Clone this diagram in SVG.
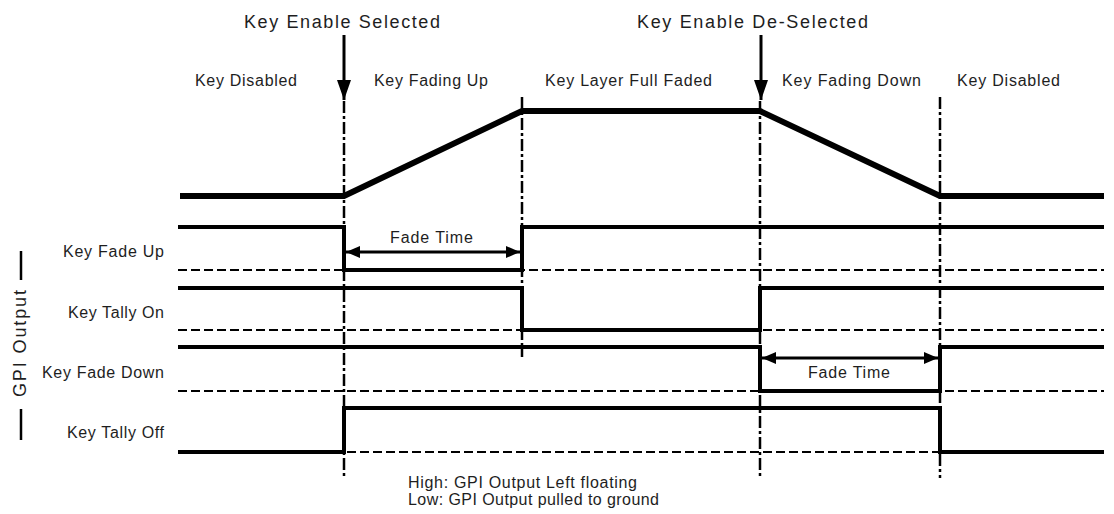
<svg xmlns="http://www.w3.org/2000/svg" width="1114" height="514" viewBox="0 0 1114 514">
  <style>
    text { font-family: "Liberation Sans", Arial, sans-serif; fill: #1e1e1e; }
    .title { font-size: 18px; }
    .lbl { font-size: 16px; }
    .sig { fill: none; stroke: #000; stroke-width: 4; stroke-linejoin: miter; }
    .key { fill: none; stroke: #000; stroke-width: 6; stroke-linejoin: miter; }
    .base { fill: none; stroke: #000; stroke-width: 2; stroke-dasharray: 9 4; }
    .mark { fill: none; stroke: #000; stroke-width: 2.5; stroke-dasharray: 12 3 3 3; }
    .span { fill: none; stroke: #000; stroke-width: 3; }
    .tick { fill: none; stroke: #000; stroke-width: 2.5; }
  </style>
  <defs>
    <marker id="head" viewBox="0 0 14 12" refX="14" refY="6" markerWidth="14" markerHeight="12" markerUnits="userSpaceOnUse" orient="auto-start-reverse">
      <path d="M0,0 L14,6 L0,12 Z" fill="#000"/>
    </marker>
    <marker id="drop" viewBox="0 0 14 20" refX="7" refY="20" markerWidth="14" markerHeight="20" markerUnits="userSpaceOnUse" orient="0">
      <path d="M0,0 L14,0 L7,20 Z" fill="#000"/>
    </marker>
  </defs>

  <rect width="1114" height="514" fill="#fff"/>

  <!-- event titles -->
  <g id="events">
    <text class="title" x="244" y="28" textLength="196" lengthAdjust="spacing">Key Enable Selected</text>
    <text class="title" x="637" y="28" textLength="231" lengthAdjust="spacing">Key Enable De-Selected</text>
  </g>

  <!-- phase names -->
  <g id="phases">
    <text class="lbl" x="195" y="86" textLength="102" lengthAdjust="spacing">Key Disabled</text>
    <text class="lbl" x="374" y="86" textLength="114" lengthAdjust="spacing">Key Fading Up</text>
    <text class="lbl" x="545" y="86" textLength="167" lengthAdjust="spacing">Key Layer Full Faded</text>
    <text class="lbl" x="782" y="86" textLength="139" lengthAdjust="spacing">Key Fading Down</text>
    <text class="lbl" x="957" y="86" textLength="103" lengthAdjust="spacing">Key Disabled</text>
  </g>

  <!-- time markers -->
  <g id="markers">
    <line class="mark" x1="344" y1="101" x2="344" y2="478"/>
    <line class="mark" x1="522" y1="97" x2="522" y2="357"/>
    <line class="mark" x1="760" y1="101" x2="760" y2="478"/>
    <line class="mark" x1="940" y1="97" x2="940" y2="478"/>
  </g>

  <!-- key layer level -->
  <g id="key-level">
    <polyline class="key" points="180,196 344,196 522,111 760,111 940,196 1104,196"/>
  </g>

  <!-- GPI group label -->
  <g id="gpi-label">
    <line class="tick" x1="21" y1="251" x2="21" y2="280"/>
    <line class="tick" x1="21" y1="409" x2="21" y2="440"/>
    <text class="title" transform="translate(26,397) rotate(-90)" textLength="107" lengthAdjust="spacing">GPI Output</text>
  </g>

  <!-- GPI: Key Fade Up -->
  <g id="key-fade-up">
    <text class="lbl" x="164" y="257" text-anchor="end" textLength="101" lengthAdjust="spacing">Key Fade Up</text>
    <line class="base" x1="178" y1="270" x2="1104" y2="270"/>
    <polyline class="sig" points="178,227 344,227 344,270 522,270 522,227 1104,227"/>
  </g>

  <!-- GPI: Key Tally On -->
  <g id="key-tally-on">
    <text class="lbl" x="164" y="318" text-anchor="end" textLength="96" lengthAdjust="spacing">Key Tally On</text>
    <line class="base" x1="178" y1="330" x2="1104" y2="330"/>
    <polyline class="sig" points="178,288 522,288 522,330 760,330 760,288 1104,288"/>
  </g>

  <!-- GPI: Key Fade Down -->
  <g id="key-fade-down">
    <text class="lbl" x="164" y="378" text-anchor="end" textLength="122" lengthAdjust="spacing">Key Fade Down</text>
    <line class="base" x1="178" y1="391" x2="1104" y2="391"/>
    <polyline class="sig" points="178,347 760,347 760,391 940,391 940,347 1104,347"/>
  </g>

  <!-- GPI: Key Tally Off -->
  <g id="key-tally-off">
    <text class="lbl" x="164" y="438" text-anchor="end" textLength="97" lengthAdjust="spacing">Key Tally Off</text>
    <line class="base" x1="178" y1="452" x2="1104" y2="452"/>
    <polyline class="sig" points="178,452 344,452 344,408 940,408 940,452 1104,452"/>
  </g>

  <!-- legend -->
  <g id="legend">
    <text class="lbl" x="408" y="488" textLength="229" lengthAdjust="spacing">High: GPI Output Left floating</text>
    <text class="lbl" x="408" y="505" textLength="251" lengthAdjust="spacing">Low: GPI Output pulled to ground</text>
  </g>

  <!-- event arrows and fade-time spans -->
  <g id="connectors">
    <line class="span" x1="344" y1="35" x2="344" y2="100" marker-end="url(#drop)"/>
    <line class="span" x1="761" y1="35" x2="761" y2="100" marker-end="url(#drop)"/>
    <line class="span" x1="346" y1="252" x2="520" y2="252" marker-start="url(#head)" marker-end="url(#head)"/>
    <text class="lbl" x="390" y="243" textLength="83" lengthAdjust="spacing">Fade Time</text>
    <line class="span" x1="762" y1="358" x2="938" y2="358" marker-start="url(#head)" marker-end="url(#head)"/>
    <text class="lbl" x="808" y="378" textLength="82" lengthAdjust="spacing">Fade Time</text>
  </g>
</svg>
